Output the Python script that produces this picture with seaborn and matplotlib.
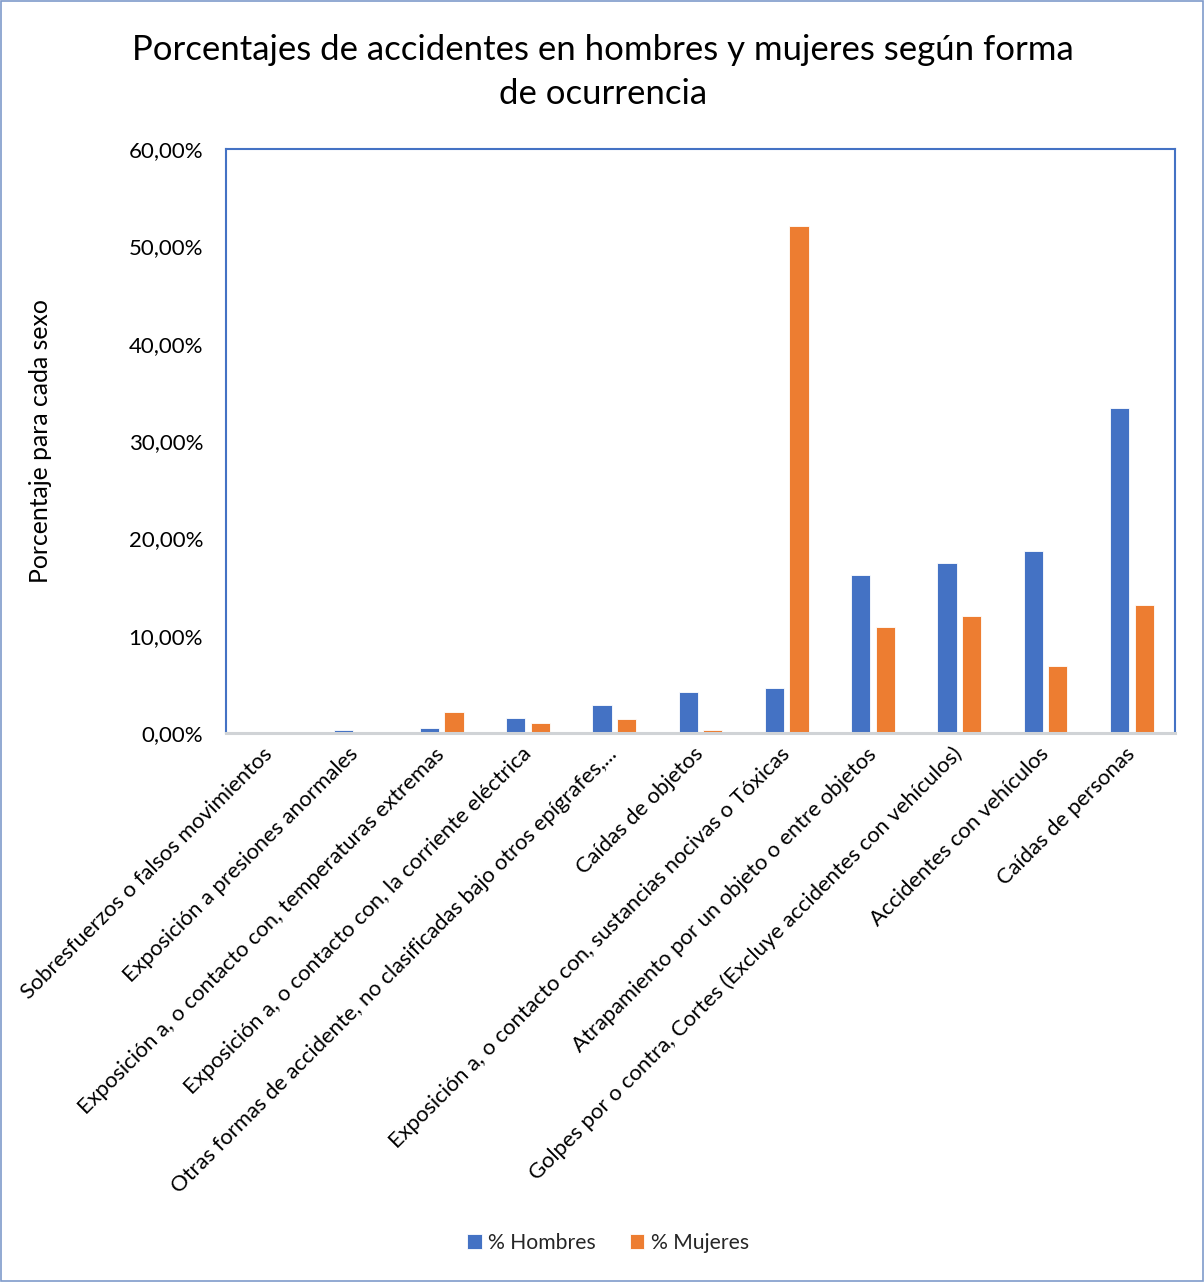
import matplotlib
matplotlib.use("Agg")
import matplotlib.pyplot as plt
import seaborn as sns
import pandas as pd
from matplotlib.ticker import FuncFormatter
from matplotlib.patches import Rectangle

# Forma de ocurrencia del accidente
categorias = [
    "Sobresfuerzos o falsos movimientos",
    "Exposición a presiones anormales",
    "Exposición a, o contacto con, temperaturas extremas",
    "Exposición a, o contacto con, la corriente eléctrica",
    "Otras formas de accidente, no clasificadas bajo otros epígrafes,...",
    "Caídas de objetos",
    "Exposición a, o contacto con, sustancias nocivas o Tóxicas",
    "Atrapamiento por un objeto o entre objetos",
    "Golpes por o contra, Cortes (Excluye accidentes con vehículos)",
    "Accidentes con vehículos",
    "Caídas de personas",
]

# Porcentaje de accidentes para cada sexo
hombres = [0.05, 0.27, 0.52, 1.55, 2.92, 4.2, 4.62, 16.2, 17.5, 18.7, 33.4]
mujeres = [0.0, 0.0, 2.15, 1.05, 1.45, 0.32, 52.1, 10.9, 12.0, 6.9, 13.1]

series = ["% Hombres", "% Mujeres"]
colores = ["#4472C4", "#ED7D31"]

df = pd.DataFrame({
    "categoria": categorias * 2,
    "serie": [series[0]] * len(categorias) + [series[1]] * len(categorias),
    "valor": hombres + mujeres,
})

sns.set_theme(style="white")
plt.rcParams["font.family"] = ["Lato", "DejaVu Sans"]

W, H = 1204, 1282
fig = plt.figure(figsize=(W / 100, H / 100), dpi=100)
ax = fig.add_axes([226 / W, 1 - 733 / H, 949 / W, 584 / H])

sns.barplot(data=df, x="categoria", y="valor", hue="serie",
            palette=colores, saturation=1, width=0.57, gap=0.22, ax=ax,
            edgecolor="white", linewidth=0.6, order=categorias)

ax.set_ylim(0, 60)
ax.set_yticks(range(0, 61, 10))
ax.yaxis.set_major_formatter(
    FuncFormatter(lambda v, p: f"{v:.2f}".replace(".", ",") + "%"))
ax.tick_params(axis="both", length=0, colors="black")
ax.tick_params(axis="y", pad=16.5, labelsize=16)
ax.tick_params(axis="x", pad=13)
ax.set_xticks(range(len(categorias)))
ax.set_xticklabels(categorias, rotation=45, ha="right", va="center",
                   rotation_mode="anchor", fontsize=15.8)
ax.set_xlabel("")
ax.set_ylabel("Porcentaje para cada sexo", fontsize=17.8, color="black")
ax.yaxis.set_label_coords(-0.183, 0.5)

for s in ["left", "top", "right"]:
    ax.spines[s].set_color("#4472C4")
    ax.spines[s].set_linewidth(1.5)
ax.spines["bottom"].set_color("#D0D3D6")
ax.spines["bottom"].set_linewidth(2.2)

# Título en dos líneas
fig.text(603 / W, 1 - 60 / H,
         "Porcentajes de accidentes en hombres y mujeres según forma",
         ha="center", va="baseline", fontsize=25, color="black")
fig.text(603 / W, 1 - 104 / H, "de ocurrencia",
         ha="center", va="baseline", fontsize=25, color="black")

# Leyenda inferior
handles, labels = ax.get_legend_handles_labels()
ax.get_legend().remove()
fig.legend(handles, labels, loc="center", bbox_to_anchor=(608 / W, 1 - 1243 / H),
           ncol=2, frameon=False, fontsize=15.2, handlelength=0.7,
           handleheight=0.7, handletextpad=0.3, columnspacing=1.6)

# Borde del gráfico
fig.patches.append(Rectangle((0.001, 0.001), 0.998, 0.998, transform=fig.transFigure,
                             fill=False, edgecolor="#7F9BCB", linewidth=1.2))

fig.savefig("out.png", dpi=100)
